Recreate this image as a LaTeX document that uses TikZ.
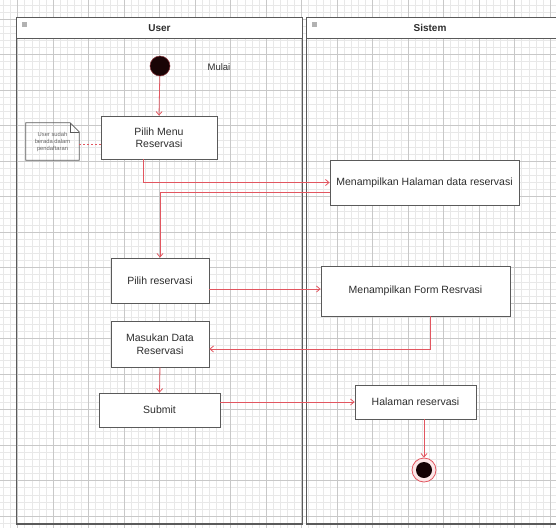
\documentclass[tikz,border=0pt]{standalone}
\usepackage{fontspec}
\setmainfont{Liberation Sans}
\usetikzlibrary{arrows.meta,calc}
\definecolor{flowred}{RGB}{226,86,96}
\definecolor{lanegray}{RGB}{90,90,90}
\definecolor{gridminor}{RGB}{232,232,232}
\definecolor{gridmajor}{RGB}{200,200,200}
\definecolor{txtgray}{RGB}{45,45,45}
\tikzset{
  act/.style={draw=lanegray, line width=0.8pt, fill=white, rectangle, align=center, font=\fontsize{10.5}{12.5}\selectfont, text=txtgray, inner sep=1pt},
  flow/.style={draw=flowred, line width=0.8pt, -{Straight Barb[length=3.5pt,width=6pt]}},
  lane/.style={draw=lanegray, line width=1.4pt},
  lanehead/.style={draw=lanegray, line width=1.2pt, fill=white},
  headtext/.style={font=\bfseries\fontsize{10}{12}\selectfont, text=txtgray},
}
\begin{document}
\begin{tikzpicture}[x=1pt,y=-1pt]
\useasboundingbox (0,0) rectangle (556,528);
\fill[white] (0,0) rectangle (556,528);
% grid
\begin{scope}
\clip (0,0) rectangle (556,528);
\foreach \i in {0,...,80} {
  \draw[gridminor, line width=0.4pt] ({3.3+7.1*\i},0) -- ({3.3+7.1*\i},528);
  \draw[gridminor, line width=0.4pt] (0,{4.8+7.1*\i}) -- (556,{4.8+7.1*\i});
}
\foreach \i in {0,...,16} {
  \draw[gridmajor, line width=0.6pt] ({17.5+35.5*\i},0) -- ({17.5+35.5*\i},528);
  \draw[gridmajor, line width=0.6pt] (0,{19+35.5*\i}) -- (556,{19+35.5*\i});
}
% lanes
\draw[lane] (16.5,17.5) rectangle (302.5,524);
\draw[lanehead] (16.5,17.5) rectangle (302.5,38.5);
\node[headtext] (userh) at (159.5,28) {User};
\fill[gray!60] (22,22) rectangle (27,27);
\draw[lane] (306.5,17.5) rectangle (570,524);
\draw[lanehead] (306.5,17.5) rectangle (570,38.5);
\node[headtext] (sish) at (430,28) {Sistem};
\fill[gray!60] (312,22) rectangle (317,27);
\end{scope}
% start
\node[circle, fill={rgb,255:red,26;green,4;blue,6}, draw=flowred!60!black, line width=0.5pt, minimum size=20pt, inner sep=0pt] (start) at (160,66) {};
\node[font=\fontsize{9.5}{11}\selectfont, text=txtgray] (mulai) at (219,67) {Mulai};
% activities
\node[act, minimum width=116pt, minimum height=43pt] (pm) at (159,137.5) {Pilih Menu\\Reservasi};
\node[act, minimum width=189pt, minimum height=45pt] (hd) at (424.5,182.5) {Menampilkan Halaman data reservasi};
\node[act, minimum width=98pt, minimum height=45pt] (pr) at (160,280.5) {Pilih reservasi};
\node[act, minimum width=189pt, minimum height=50pt] (fr) at (415.5,291) {Menampilkan Form Resrvasi};
\node[act, minimum width=98pt, minimum height=46pt] (md) at (160,344) {Masukan Data\\Reservasi};
\node[act, minimum width=121pt, minimum height=34pt] (sb) at (159.5,410) {Submit};
\node[act, minimum width=121pt, minimum height=34pt] (hr) at (415.5,402) {Halaman reservasi};
% note
\node[minimum width=53pt, minimum height=37pt, inner sep=0pt, align=center, font=\fontsize{5.8}{7}\selectfont, text=gray!80!black] (note) at (52.5,141.5) {User sudah\\berada dalam\\pendaftaran};
\draw[lanegray, line width=0.7pt] (note.north west) -- ($(note.north east)+(-9,0)$) -- ($(note.north east)+(0,9)$) -- (note.south east) -- (note.south west) -- cycle;
\draw[lanegray, line width=0.5pt] ($(note.north east)+(-9,0)$) -- ($(note.north east)+(-9,9)$) -- ($(note.north east)+(0,9)$);
\draw[flowred, line width=0.7pt, dashed, dash pattern=on 2pt off 2pt] ($(note.east)+(0,3)$) -- ($(pm.west |- note.east)+(0,3)$);
% end
\node[circle, draw=flowred, line width=0.8pt, fill=flowred!15, minimum size=24pt, inner sep=0pt] (end) at (424,470) {};
\node[circle, fill={rgb,255:red,20;green,2;blue,4}, minimum size=16pt, inner sep=0pt] (endin) at (end.center) {};
% flows
\coordinate (frin) at ($(fr.west)+(0,-2)$);
\draw[flow] (start) -- (pm.north);
\draw[flow] ($(pm.south)+(-16,0)$) |- (hd.west);
\draw[flow] ($(hd.west)+(0,10)$) -| (pr.north);
\draw[flow] (pr.east |- frin) -- (frin);
\draw[flow] ($(fr.south)+(15,0)$) |- ($(md.east)+(0,5)$);
\draw[flow] (md.south) -- (sb.north);
\draw[flow] (sb.east |- hr.west) -- (hr.west);
\draw[flow] (end.north |- hr.south) -- (end.north);
\end{tikzpicture}
\end{document}
